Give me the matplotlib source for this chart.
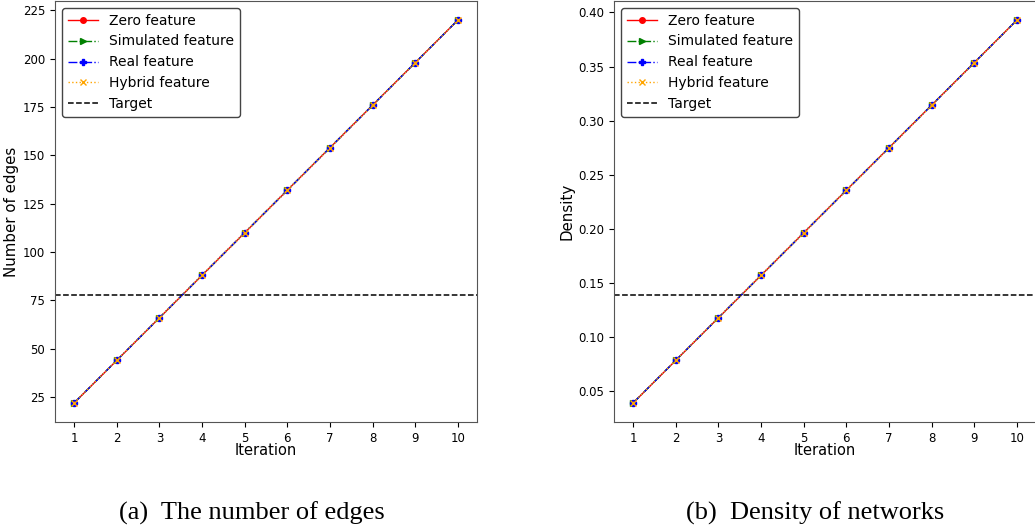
import numpy as np
import matplotlib
matplotlib.use("Agg")
import matplotlib.pyplot as plt

iterations = [1, 2, 3, 4, 5, 6, 7, 8, 9, 10]

edges_zero = [22, 44, 66, 88, 110, 132, 154, 176, 198, 220]
edges_sim = [22, 44, 66, 88, 110, 132, 154, 176, 198, 220]
edges_real = [22, 44, 66, 88, 110, 132, 154, 176, 198, 220]
edges_hybrid = [22, 44, 66, 88, 110, 132, 154, 176, 198, 220]
edges_target = 78

density_zero = [0.0393, 0.0786, 0.1179, 0.1571, 0.1964, 0.2357, 0.2750, 0.3143, 0.3536, 0.3929]
density_sim = [0.0393, 0.0786, 0.1179, 0.1571, 0.1964, 0.2357, 0.2750, 0.3143, 0.3536, 0.3929]
density_real = [0.0393, 0.0786, 0.1179, 0.1571, 0.1964, 0.2357, 0.2750, 0.3143, 0.3536, 0.3929]
density_hybrid = [0.0393, 0.0786, 0.1179, 0.1571, 0.1964, 0.2357, 0.2750, 0.3143, 0.3536, 0.3929]
density_target = 0.1393

series_labels = ["Zero feature", "Simulated feature", "Real feature", "Hybrid feature"]
target_label = "Target"

W, H = 1035, 532
fig = plt.figure(figsize=(W / 100, H / 100), dpi=100)


def px_axes(x0, x1, y_top, y_bot):
    return fig.add_axes([x0 / W, (H - y_bot) / H, (x1 - x0) / W, (y_bot - y_top) / H])


def draw(ax, zero, sim, real, hybrid, target, ylabel):
    ax.plot(iterations, zero, color="red", linestyle="-", marker="o",
            markersize=4, linewidth=1, label=series_labels[0])
    ax.plot(iterations, sim, color="green", linestyle="-.", marker=">",
            markersize=4, linewidth=1, label=series_labels[1])
    ax.plot(iterations, real, color="blue", linestyle="-.", marker="P",
            markersize=5, linewidth=1, label=series_labels[2])
    ax.plot(iterations, hybrid, color="orange", linestyle=":", marker="x",
            markersize=4, linewidth=1, label=series_labels[3])
    ax.axhline(target, color="black", linestyle="--", linewidth=1.1, label=target_label)
    ax.set_xticks(iterations)
    ax.set_xlabel("Iteration", fontsize=10.5, labelpad=-1)
    ax.set_ylabel(ylabel, fontsize=10.8, labelpad=2.5)
    ax.tick_params(labelsize=8.5)
    for s in ax.spines.values():
        s.set_color("#555555")
    ax.legend(loc="upper left", fontsize=10, handlelength=2.2,
              borderaxespad=0.5, framealpha=1, edgecolor="#444444", fancybox=True)


ax1 = px_axes(55, 477, 1, 422)
draw(ax1, edges_zero, edges_sim, edges_real, edges_hybrid, edges_target, "Number of edges")
ax1.set_yticks([25, 50, 75, 100, 125, 150, 175, 200, 225])

ax2 = px_axes(614, 1036, 1, 422)
draw(ax2, density_zero, density_sim, density_real, density_hybrid, density_target, "Density")
ax2.yaxis.set_major_formatter(matplotlib.ticker.FormatStrFormatter("%.2f"))

fig.text(252 / W, (H - 520) / H, "(a)  The number of edges", family="Liberation Serif",
         fontsize=19, ha="center", va="baseline")
fig.text(815 / W, (H - 520) / H, "(b)  Density of networks", family="Liberation Serif",
         fontsize=19, ha="center", va="baseline")

fig.savefig("out.png", dpi=100)
